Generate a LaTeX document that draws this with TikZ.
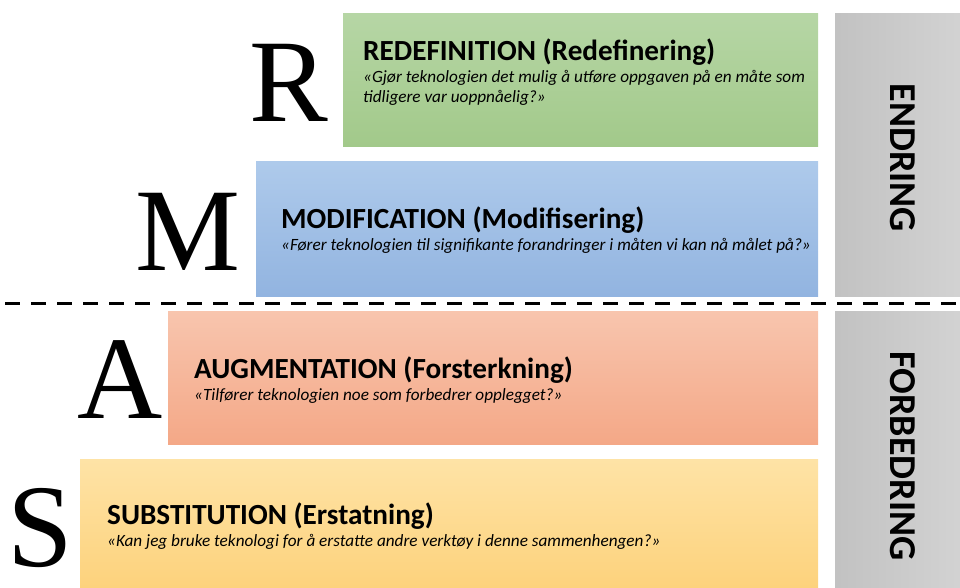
\documentclass[tikz,border=0pt]{standalone}
\usepackage{fontspec}
\setmainfont{Carlito}
\newfontfamily\timesf{Liberation Serif}
\begin{document}
\begin{tikzpicture}[x=1pt,y=-1pt,
  lvlbox/.style={draw=none},
  sidebox/.style={left color=gray!48, right color=gray!35, draw=none},
  ttl/.style={anchor=base west, inner sep=0pt, font=\fontsize{29.2}{32}\selectfont\bfseries},
  qst/.style={anchor=base west, inner sep=0pt, font=\fontsize{17.2}{20}\selectfont\itshape},
  big/.style={anchor=base west, inner sep=0pt, text depth=0pt, font=\timesf\fontsize{118}{118}\selectfont},
  side/.style={rotate=-90, inner sep=0pt, font=\fontsize{38}{40}\selectfont\bfseries}]
\definecolor{gT}{HTML}{B6D6A5}\definecolor{gB}{HTML}{A2C98A}
\definecolor{bT}{HTML}{AECAEB}\definecolor{bB}{HTML}{92B4E0}
\definecolor{oT}{HTML}{F8C5AE}\definecolor{oB}{HTML}{F4A887}
\definecolor{yT}{HTML}{FEE3A6}\definecolor{yB}{HTML}{FDD27C}
\useasboundingbox (0,0) rectangle (960,588);
% level boxes
\path[lvlbox, top color=gT, bottom color=gB] (343,14) rectangle (818,147);
\path[lvlbox, top color=bT, bottom color=bB] (256,162) rectangle (818,296);
\path[lvlbox, top color=oT, bottom color=oB] (168,311) rectangle (818,444);
\path[lvlbox, top color=yT, bottom color=yB] (80,459) rectangle (818,588);
% side boxes
\path[sidebox] (835,14) rectangle (960,296);
\path[sidebox] (835,311) rectangle (960,588);
\node[side] (endr) at (903,158) {ENDRING};
\node[side] (forb) at (903,456) {FORBEDRING};
% dashed separator
\coordinate (dl) at (5,303);
\coordinate (dr) at (958,303);
\draw[line width=3pt, dash pattern=on 15pt off 11pt] (dl) -- (dr);
% big letters
\node[big] (R) at (249,122) {R};
\node[big] (M) at (135,270) {M};
\node[big] (A) at (77,418) {A};
\node[big] (S) at (7,566) {S};
% texts
\node[ttl] (rt) at (363,61) {REDEFINITION (Redefinering)};
\node[qst] (rq1) at (363,83) {«Gjør teknologien det mulig å utføre oppgaven på en måte som};
\node[qst] (rq2) at (363,103) {tidligere var uoppnåelig?»};
\node[ttl] (mt) at (281,228) {MODIFICATION (Modifisering)};
\node[qst] (mq) at (281,250) {«Fører teknologien til signifikante forandringer i måten vi kan nå målet på?»};
\node[ttl] (at) at (194,378) {AUGMENTATION (Forsterkning)};
\node[qst] (aq) at (194,400) {«Tilfører teknologien noe som forbedrer opplegget?»};
\node[ttl] (st) at (107,524) {SUBSTITUTION (Erstatning)};
\node[qst] (sq) at (107,546) {«Kan jeg bruke teknologi for å erstatte andre verktøy i denne sammenhengen?»};
\end{tikzpicture}
\end{document}
